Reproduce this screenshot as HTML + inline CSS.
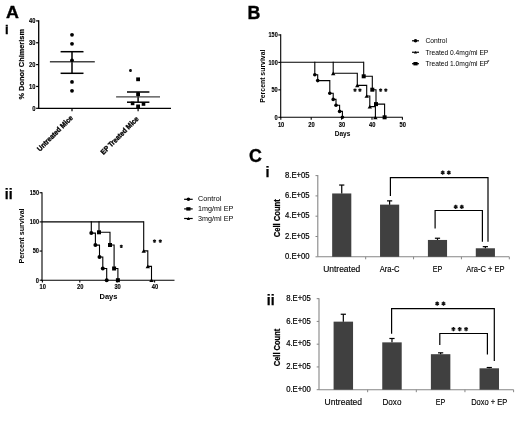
<!DOCTYPE html>
<html><head><meta charset="utf-8"><style>
html,body{margin:0;padding:0;background:#fff;width:520px;height:425px;overflow:hidden;}
svg{display:block;font-family:"Liberation Sans", sans-serif;filter:grayscale(1);}
</style></head><body>
<svg width="520" height="425" viewBox="0 0 520 425">
<rect width="520" height="425" fill="#fff"/>
<text x="5.90" y="17.90" font-size="16.4" font-weight="bold" text-anchor="start" fill="#000" stroke="#000" stroke-width="0.35" transform="translate(5.9 0) scale(1.09 1) translate(-5.9 0)">A</text>
<text x="4.90" y="33.70" font-size="12.9" font-weight="bold" text-anchor="start" fill="#000" stroke="#000" stroke-width="0.3">i</text>
<text x="247.40" y="18.80" font-size="17.8" font-weight="bold" text-anchor="start" fill="#000" stroke="#000" stroke-width="0.35">B</text>
<text x="4.80" y="199.10" font-size="14" font-weight="bold" text-anchor="start" fill="#000" stroke="#000" stroke-width="0.25">ii</text>
<text x="249.00" y="161.90" font-size="17.8" font-weight="bold" text-anchor="start" fill="#000" stroke="#000" stroke-width="0.35">C</text>
<text x="265.60" y="176.90" font-size="14.5" font-weight="bold" text-anchor="start" fill="#000" stroke="#000" stroke-width="0.25">i</text>
<text x="266.80" y="304.50" font-size="14" font-weight="bold" text-anchor="start" fill="#000" stroke="#000" stroke-width="0.25">ii</text>
<line x1="38.70" y1="20.30" x2="38.70" y2="108.90" stroke="#000" stroke-width="1.3"/>
<line x1="38.10" y1="108.30" x2="171.00" y2="108.30" stroke="#000" stroke-width="1.3"/>
<line x1="36.10" y1="108.30" x2="38.70" y2="108.30" stroke="#000" stroke-width="1.2"/>
<text x="35.50" y="110.70" font-size="6.7" font-weight="bold" text-anchor="end" fill="#000" textLength="3.3" lengthAdjust="spacingAndGlyphs" stroke="#000" stroke-width="0.15">0</text>
<line x1="36.10" y1="86.45" x2="38.70" y2="86.45" stroke="#000" stroke-width="1.2"/>
<text x="35.50" y="88.85" font-size="6.7" font-weight="bold" text-anchor="end" fill="#000" textLength="6.4" lengthAdjust="spacingAndGlyphs" stroke="#000" stroke-width="0.15">10</text>
<line x1="36.10" y1="64.60" x2="38.70" y2="64.60" stroke="#000" stroke-width="1.2"/>
<text x="35.50" y="67.00" font-size="6.7" font-weight="bold" text-anchor="end" fill="#000" textLength="6.4" lengthAdjust="spacingAndGlyphs" stroke="#000" stroke-width="0.15">20</text>
<line x1="36.10" y1="42.75" x2="38.70" y2="42.75" stroke="#000" stroke-width="1.2"/>
<text x="35.50" y="45.15" font-size="6.7" font-weight="bold" text-anchor="end" fill="#000" textLength="6.4" lengthAdjust="spacingAndGlyphs" stroke="#000" stroke-width="0.15">30</text>
<line x1="36.10" y1="20.90" x2="38.70" y2="20.90" stroke="#000" stroke-width="1.2"/>
<text x="35.50" y="23.30" font-size="6.7" font-weight="bold" text-anchor="end" fill="#000" textLength="6.4" lengthAdjust="spacingAndGlyphs" stroke="#000" stroke-width="0.15">40</text>
<line x1="72.00" y1="108.30" x2="72.00" y2="111.30" stroke="#000" stroke-width="1.2"/>
<line x1="138.10" y1="108.30" x2="138.10" y2="111.30" stroke="#000" stroke-width="1.2"/>
<text x="23.60" y="64.30" font-size="7.6" font-weight="bold" text-anchor="middle" fill="#000" textLength="70.5" lengthAdjust="spacingAndGlyphs" stroke="#000" stroke-width="0.2" transform="rotate(-90 23.6 64.3)">% Donor Chimerism</text>
<text x="73.30" y="118.40" font-size="7.3" font-weight="bold" text-anchor="end" fill="#000" textLength="47.0" lengthAdjust="spacingAndGlyphs" stroke="#000" stroke-width="0.35" transform="rotate(-45 73.3 118.4)">Untreated Mice</text>
<text x="139.20" y="119.40" font-size="7.3" font-weight="bold" text-anchor="end" fill="#000" textLength="50.3" lengthAdjust="spacingAndGlyphs" stroke="#000" stroke-width="0.35" transform="rotate(-45 139.2 119.4)">EP Treated Mice</text>
<line x1="72.00" y1="51.70" x2="72.00" y2="73.30" stroke="#000" stroke-width="1.5"/>
<line x1="60.60" y1="51.70" x2="83.50" y2="51.70" stroke="#000" stroke-width="1.5"/>
<line x1="60.60" y1="73.30" x2="83.50" y2="73.30" stroke="#000" stroke-width="1.5"/>
<line x1="49.90" y1="61.75" x2="94.80" y2="61.75" stroke="#444" stroke-width="1.3"/>
<circle cx="72.00" cy="34.80" r="1.9" fill="#000"/>
<circle cx="72.00" cy="43.80" r="1.9" fill="#000"/>
<circle cx="72.00" cy="60.30" r="1.9" fill="#000"/>
<circle cx="72.00" cy="81.90" r="1.9" fill="#000"/>
<circle cx="72.00" cy="90.80" r="1.9" fill="#000"/>
<line x1="138.10" y1="92.00" x2="138.10" y2="102.20" stroke="#000" stroke-width="1.5"/>
<line x1="127.00" y1="92.00" x2="149.40" y2="92.00" stroke="#000" stroke-width="1.5"/>
<line x1="127.00" y1="102.20" x2="149.40" y2="102.20" stroke="#000" stroke-width="1.5"/>
<line x1="116.10" y1="96.90" x2="160.00" y2="96.90" stroke="#444" stroke-width="1.3"/>
<rect x="136.20" y="77.40" width="3.8" height="3.8" fill="#000"/>
<rect x="136.20" y="92.30" width="3.8" height="3.8" fill="#000"/>
<rect x="130.80" y="101.60" width="3.6" height="3.6" fill="#000"/>
<rect x="141.70" y="102.20" width="3.6" height="3.6" fill="#000"/>
<rect x="136.20" y="104.50" width="3.8" height="3.8" fill="#000"/>
<path d="M130.50,69.10L130.50,72.10M129.20,69.85L131.80,71.35M131.80,69.85L129.20,71.35" stroke="#111" stroke-width="1.1" fill="none"/>
<line x1="42.00" y1="192.15" x2="42.00" y2="280.80" stroke="#000" stroke-width="1.1"/>
<line x1="41.40" y1="280.20" x2="174.50" y2="280.20" stroke="#000" stroke-width="1.1"/>
<line x1="39.60" y1="280.20" x2="42.00" y2="280.20" stroke="#000" stroke-width="1.1"/>
<text x="39.00" y="282.50" font-size="6.3" font-weight="bold" text-anchor="end" fill="#000" textLength="3.2" lengthAdjust="spacingAndGlyphs" stroke="#000" stroke-width="0.12">0</text>
<line x1="39.60" y1="251.05" x2="42.00" y2="251.05" stroke="#000" stroke-width="1.1"/>
<text x="39.00" y="253.35" font-size="6.3" font-weight="bold" text-anchor="end" fill="#000" textLength="6.3" lengthAdjust="spacingAndGlyphs" stroke="#000" stroke-width="0.12">50</text>
<line x1="39.60" y1="221.90" x2="42.00" y2="221.90" stroke="#000" stroke-width="1.1"/>
<text x="39.00" y="224.20" font-size="6.3" font-weight="bold" text-anchor="end" fill="#000" textLength="9.2" lengthAdjust="spacingAndGlyphs" stroke="#000" stroke-width="0.12">100</text>
<line x1="39.60" y1="192.75" x2="42.00" y2="192.75" stroke="#000" stroke-width="1.1"/>
<text x="39.00" y="195.05" font-size="6.3" font-weight="bold" text-anchor="end" fill="#000" textLength="9.2" lengthAdjust="spacingAndGlyphs" stroke="#000" stroke-width="0.12">150</text>
<line x1="42.40" y1="280.20" x2="42.40" y2="282.60" stroke="#000" stroke-width="1.1"/>
<text x="42.80" y="289.20" font-size="6.3" font-weight="bold" text-anchor="middle" fill="#000" textLength="6.4" lengthAdjust="spacingAndGlyphs" stroke="#000" stroke-width="0.12">10</text>
<line x1="79.80" y1="280.20" x2="79.80" y2="282.60" stroke="#000" stroke-width="1.1"/>
<text x="80.20" y="289.20" font-size="6.3" font-weight="bold" text-anchor="middle" fill="#000" textLength="6.4" lengthAdjust="spacingAndGlyphs" stroke="#000" stroke-width="0.12">20</text>
<line x1="117.20" y1="280.20" x2="117.20" y2="282.60" stroke="#000" stroke-width="1.1"/>
<text x="117.60" y="289.20" font-size="6.3" font-weight="bold" text-anchor="middle" fill="#000" textLength="6.4" lengthAdjust="spacingAndGlyphs" stroke="#000" stroke-width="0.12">30</text>
<line x1="154.60" y1="280.20" x2="154.60" y2="282.60" stroke="#000" stroke-width="1.1"/>
<text x="155.00" y="289.20" font-size="6.3" font-weight="bold" text-anchor="middle" fill="#000" textLength="6.4" lengthAdjust="spacingAndGlyphs" stroke="#000" stroke-width="0.12">40</text>
<text x="108.50" y="299.00" font-size="7.5" font-weight="bold" text-anchor="middle" fill="#000" >Days</text>
<text x="24.50" y="235.90" font-size="7.2" font-weight="bold" text-anchor="middle" fill="#000" textLength="55.0" lengthAdjust="spacingAndGlyphs" transform="rotate(-90 24.5 235.9)">Percent survival</text>
<line x1="42.00" y1="221.90" x2="143.70" y2="221.90" stroke="#000" stroke-width="1.1"/>
<path d="M143.15,221.90 H143.70 V250.90 H147.80 V266.40 H151.50 V280.20" fill="none" stroke="#000" stroke-width="1.1"/>
<path d="M141.50,252.77 L145.90,252.77 L143.70,249.03Z" fill="#000"/>
<path d="M145.60,268.27 L150.00,268.27 L147.80,264.53Z" fill="#000"/>
<path d="M149.30,282.07 L153.70,282.07 L151.50,278.33Z" fill="#000"/>
<path d="M98.45,221.90 H99.00 V232.30 H110.00 V245.00 H114.10 V268.50 H117.90 V280.20" fill="none" stroke="#000" stroke-width="1.1"/>
<rect x="97.00" y="230.30" width="4.0" height="4.0" fill="#000"/>
<rect x="108.00" y="243.00" width="4.0" height="4.0" fill="#000"/>
<rect x="112.10" y="266.50" width="4.0" height="4.0" fill="#000"/>
<rect x="115.90" y="278.20" width="4.0" height="4.0" fill="#000"/>
<path d="M90.75,221.90 H91.30 V233.10 H95.40 V245.10 H99.50 V257.00 H102.80 V268.50 H106.70 V280.20" fill="none" stroke="#000" stroke-width="1.1"/>
<circle cx="91.30" cy="233.10" r="2.0" fill="#000"/>
<circle cx="95.40" cy="245.10" r="2.0" fill="#000"/>
<circle cx="99.50" cy="257.00" r="2.0" fill="#000"/>
<circle cx="102.80" cy="268.50" r="2.0" fill="#000"/>
<circle cx="106.70" cy="280.20" r="2.0" fill="#000"/>
<path d="M121.30,244.80L121.30,248.00M119.91,245.60L122.69,247.20M122.69,245.60L119.91,247.20" stroke="#111" stroke-width="1.2" fill="none"/>
<path d="M154.50,239.40L154.50,242.80M153.03,240.25L155.97,241.95M155.97,240.25L153.03,241.95" stroke="#111" stroke-width="1.25" fill="none"/>
<path d="M160.30,239.40L160.30,242.80M158.83,240.25L161.77,241.95M161.77,240.25L158.83,241.95" stroke="#111" stroke-width="1.25" fill="none"/>
<line x1="184.10" y1="199.30" x2="192.70" y2="199.30" stroke="#000" stroke-width="1.2"/>
<circle cx="188.40" cy="199.30" r="1.8" fill="#000"/>
<text x="198.10" y="201.30" font-size="7.2" font-weight="normal" text-anchor="start" fill="#000" >Control</text>
<line x1="184.10" y1="208.90" x2="192.70" y2="208.90" stroke="#000" stroke-width="1.2"/>
<rect x="186.30" y="207.20" width="4.2" height="3.4" fill="#000"/>
<text x="198.10" y="210.90" font-size="7.2" font-weight="normal" text-anchor="start" fill="#000" >1mg/ml EP</text>
<line x1="184.10" y1="218.50" x2="192.70" y2="218.50" stroke="#000" stroke-width="1.2"/>
<path d="M186.70,219.94 L190.10,219.94 L188.40,217.06Z" fill="#000"/>
<text x="198.10" y="220.50" font-size="7.2" font-weight="normal" text-anchor="start" fill="#000" >3mg/ml EP</text>
<line x1="280.70" y1="34.35" x2="280.70" y2="117.90" stroke="#000" stroke-width="1.1"/>
<line x1="280.10" y1="117.30" x2="402.70" y2="117.30" stroke="#000" stroke-width="1.1"/>
<line x1="278.30" y1="117.30" x2="280.70" y2="117.30" stroke="#000" stroke-width="1.1"/>
<text x="277.70" y="119.60" font-size="6.3" font-weight="bold" text-anchor="end" fill="#000" textLength="3.2" lengthAdjust="spacingAndGlyphs" stroke="#000" stroke-width="0.12">0</text>
<line x1="278.30" y1="89.85" x2="280.70" y2="89.85" stroke="#000" stroke-width="1.1"/>
<text x="277.70" y="92.15" font-size="6.3" font-weight="bold" text-anchor="end" fill="#000" textLength="6.3" lengthAdjust="spacingAndGlyphs" stroke="#000" stroke-width="0.12">50</text>
<line x1="278.30" y1="62.40" x2="280.70" y2="62.40" stroke="#000" stroke-width="1.1"/>
<text x="277.70" y="64.70" font-size="6.3" font-weight="bold" text-anchor="end" fill="#000" textLength="9.2" lengthAdjust="spacingAndGlyphs" stroke="#000" stroke-width="0.12">100</text>
<line x1="278.30" y1="34.95" x2="280.70" y2="34.95" stroke="#000" stroke-width="1.1"/>
<text x="277.70" y="37.25" font-size="6.3" font-weight="bold" text-anchor="end" fill="#000" textLength="9.2" lengthAdjust="spacingAndGlyphs" stroke="#000" stroke-width="0.12">150</text>
<line x1="280.80" y1="117.30" x2="280.80" y2="119.70" stroke="#000" stroke-width="1.1"/>
<text x="281.10" y="126.80" font-size="6.3" font-weight="bold" text-anchor="middle" fill="#000" textLength="6.4" lengthAdjust="spacingAndGlyphs" stroke="#000" stroke-width="0.12">10</text>
<line x1="311.20" y1="117.30" x2="311.20" y2="119.70" stroke="#000" stroke-width="1.1"/>
<text x="311.50" y="126.80" font-size="6.3" font-weight="bold" text-anchor="middle" fill="#000" textLength="6.4" lengthAdjust="spacingAndGlyphs" stroke="#000" stroke-width="0.12">20</text>
<line x1="341.60" y1="117.30" x2="341.60" y2="119.70" stroke="#000" stroke-width="1.1"/>
<text x="341.90" y="126.80" font-size="6.3" font-weight="bold" text-anchor="middle" fill="#000" textLength="6.4" lengthAdjust="spacingAndGlyphs" stroke="#000" stroke-width="0.12">30</text>
<line x1="372.00" y1="117.30" x2="372.00" y2="119.70" stroke="#000" stroke-width="1.1"/>
<text x="372.30" y="126.80" font-size="6.3" font-weight="bold" text-anchor="middle" fill="#000" textLength="6.4" lengthAdjust="spacingAndGlyphs" stroke="#000" stroke-width="0.12">40</text>
<line x1="402.40" y1="117.30" x2="402.40" y2="119.70" stroke="#000" stroke-width="1.1"/>
<text x="402.70" y="126.80" font-size="6.3" font-weight="bold" text-anchor="middle" fill="#000" textLength="6.4" lengthAdjust="spacingAndGlyphs" stroke="#000" stroke-width="0.12">50</text>
<text x="342.50" y="135.80" font-size="7.0" font-weight="bold" text-anchor="middle" fill="#000" textLength="15.6" lengthAdjust="spacingAndGlyphs" >Days</text>
<text x="264.60" y="76.20" font-size="7.0" font-weight="bold" text-anchor="middle" fill="#000" textLength="53.2" lengthAdjust="spacingAndGlyphs" transform="rotate(-90 264.6 76.2)">Percent survival</text>
<line x1="280.70" y1="62.30" x2="363.70" y2="62.30" stroke="#000" stroke-width="1.1"/>
<path d="M363.15,62.30 H363.70 V76.30 H372.30 V89.70 H376.00 V104.10 H384.60 V117.30" fill="none" stroke="#000" stroke-width="1.1"/>
<rect x="361.70" y="74.30" width="4.0" height="4.0" fill="#000"/>
<rect x="370.30" y="87.70" width="4.0" height="4.0" fill="#000"/>
<rect x="374.00" y="102.10" width="4.0" height="4.0" fill="#000"/>
<rect x="382.60" y="115.30" width="4.0" height="4.0" fill="#000"/>
<path d="M332.65,62.30 H333.20 V73.30 H357.30 V85.40 H366.70 V96.00 H369.80 V106.60 H375.40 V117.30" fill="none" stroke="#000" stroke-width="1.1"/>
<path d="M331.00,75.17 L335.40,75.17 L333.20,71.43Z" fill="#000"/>
<path d="M355.10,87.27 L359.50,87.27 L357.30,83.53Z" fill="#000"/>
<path d="M364.50,97.87 L368.90,97.87 L366.70,94.13Z" fill="#000"/>
<path d="M367.60,108.47 L372.00,108.47 L369.80,104.73Z" fill="#000"/>
<path d="M373.20,119.17 L377.60,119.17 L375.40,115.43Z" fill="#000"/>
<path d="M314.25,62.30 H314.80 V74.80 H317.70 V80.60 H329.80 V93.30 H333.20 V99.40 H336.00 V105.30 H339.60 V111.40 H342.40 V117.30" fill="none" stroke="#000" stroke-width="1.1"/>
<circle cx="314.80" cy="74.80" r="1.8" fill="#000"/>
<circle cx="317.70" cy="80.60" r="1.8" fill="#000"/>
<circle cx="329.80" cy="93.30" r="1.8" fill="#000"/>
<circle cx="333.20" cy="99.40" r="1.8" fill="#000"/>
<circle cx="336.00" cy="105.30" r="1.8" fill="#000"/>
<circle cx="339.60" cy="111.40" r="1.8" fill="#000"/>
<circle cx="342.40" cy="117.30" r="1.8" fill="#000"/>
<path d="M355.00,88.40L355.00,91.80M353.53,89.25L356.47,90.95M356.47,89.25L353.53,90.95" stroke="#111" stroke-width="1.25" fill="none"/>
<path d="M359.90,88.40L359.90,91.80M358.43,89.25L361.37,90.95M361.37,89.25L358.43,90.95" stroke="#111" stroke-width="1.25" fill="none"/>
<path d="M380.60,88.40L380.60,91.80M379.13,89.25L382.07,90.95M382.07,89.25L379.13,90.95" stroke="#111" stroke-width="1.25" fill="none"/>
<path d="M385.80,88.40L385.80,91.80M384.33,89.25L387.27,90.95M387.27,89.25L384.33,90.95" stroke="#111" stroke-width="1.25" fill="none"/>
<line x1="412.00" y1="40.80" x2="419.00" y2="40.80" stroke="#000" stroke-width="1.2"/>
<circle cx="415.50" cy="40.80" r="1.8" fill="#000"/>
<text x="425.40" y="43.10" font-size="6.7" font-weight="normal" text-anchor="start" fill="#000" >Control</text>
<line x1="412.00" y1="52.25" x2="419.00" y2="52.25" stroke="#000" stroke-width="1.2"/>
<path d="M413.90,53.61 L417.10,53.61 L415.50,50.89Z" fill="#000"/>
<text x="425.40" y="54.55" font-size="6.7" font-weight="normal" text-anchor="start" fill="#000" >Treated 0.4mg/ml EP</text>
<line x1="412.00" y1="63.70" x2="419.00" y2="63.70" stroke="#000" stroke-width="1.2"/>
<rect x="413.40" y="62.00" width="4.2" height="3.4" fill="#000"/>
<text x="425.40" y="66.00" font-size="6.7" font-weight="normal" text-anchor="start" fill="#000" >Treated 1.0mg/ml EP</text>
<text x="487.20" y="64.40" font-size="5.5" font-weight="normal" text-anchor="start" fill="#000" >*</text>
<line x1="317.80" y1="175.10" x2="317.80" y2="256.80" stroke="#868686" stroke-width="1.1"/>
<line x1="317.80" y1="256.80" x2="509.30" y2="256.80" stroke="#868686" stroke-width="1.1"/>
<line x1="315.50" y1="256.80" x2="317.80" y2="256.80" stroke="#868686" stroke-width="1.0"/>
<text x="309.60" y="258.90" font-size="8.2" font-weight="normal" text-anchor="end" fill="#000" textLength="24.6" lengthAdjust="spacingAndGlyphs" stroke="#000" stroke-width="0.2">0.E+00</text>
<line x1="315.50" y1="236.50" x2="317.80" y2="236.50" stroke="#868686" stroke-width="1.0"/>
<text x="309.60" y="238.60" font-size="8.2" font-weight="normal" text-anchor="end" fill="#000" textLength="24.6" lengthAdjust="spacingAndGlyphs" stroke="#000" stroke-width="0.2">2.E+05</text>
<line x1="315.50" y1="216.20" x2="317.80" y2="216.20" stroke="#868686" stroke-width="1.0"/>
<text x="309.60" y="218.30" font-size="8.2" font-weight="normal" text-anchor="end" fill="#000" textLength="24.6" lengthAdjust="spacingAndGlyphs" stroke="#000" stroke-width="0.2">4.E+05</text>
<line x1="315.50" y1="195.90" x2="317.80" y2="195.90" stroke="#868686" stroke-width="1.0"/>
<text x="309.60" y="198.00" font-size="8.2" font-weight="normal" text-anchor="end" fill="#000" textLength="24.6" lengthAdjust="spacingAndGlyphs" stroke="#000" stroke-width="0.2">6.E+05</text>
<line x1="315.50" y1="175.60" x2="317.80" y2="175.60" stroke="#868686" stroke-width="1.0"/>
<text x="309.60" y="177.70" font-size="8.2" font-weight="normal" text-anchor="end" fill="#000" textLength="24.6" lengthAdjust="spacingAndGlyphs" stroke="#000" stroke-width="0.2">8.E+05</text>
<line x1="365.68" y1="256.80" x2="365.68" y2="259.30" stroke="#868686" stroke-width="1.0"/>
<line x1="413.55" y1="256.80" x2="413.55" y2="259.30" stroke="#868686" stroke-width="1.0"/>
<line x1="461.43" y1="256.80" x2="461.43" y2="259.30" stroke="#868686" stroke-width="1.0"/>
<line x1="509.30" y1="256.80" x2="509.30" y2="259.30" stroke="#868686" stroke-width="1.0"/>
<rect x="332.16" y="193.46" width="19.15" height="63.34" fill="#404040"/>
<line x1="341.74" y1="193.46" x2="341.74" y2="185.04" stroke="#000" stroke-width="1.2"/>
<line x1="339.14" y1="185.04" x2="344.34" y2="185.04" stroke="#000" stroke-width="1.2"/>
<text x="341.74" y="271.90" font-size="9" font-weight="normal" text-anchor="middle" fill="#000" textLength="37.2" lengthAdjust="spacingAndGlyphs" stroke="#000" stroke-width="0.15">Untreated</text>
<rect x="380.04" y="204.63" width="19.15" height="52.17" fill="#404040"/>
<line x1="389.61" y1="204.63" x2="389.61" y2="200.87" stroke="#000" stroke-width="1.2"/>
<line x1="387.01" y1="200.87" x2="392.21" y2="200.87" stroke="#000" stroke-width="1.2"/>
<text x="389.61" y="271.90" font-size="9" font-weight="normal" text-anchor="middle" fill="#000" textLength="19.9" lengthAdjust="spacingAndGlyphs" stroke="#000" stroke-width="0.15">Ara-C</text>
<rect x="427.91" y="239.95" width="19.15" height="16.85" fill="#404040"/>
<line x1="437.49" y1="239.95" x2="437.49" y2="238.23" stroke="#000" stroke-width="1.2"/>
<line x1="434.89" y1="238.23" x2="440.09" y2="238.23" stroke="#000" stroke-width="1.2"/>
<text x="437.49" y="271.90" font-size="9" font-weight="normal" text-anchor="middle" fill="#000" textLength="9.5" lengthAdjust="spacingAndGlyphs" stroke="#000" stroke-width="0.15">EP</text>
<rect x="475.79" y="248.27" width="19.15" height="8.53" fill="#404040"/>
<line x1="485.36" y1="248.27" x2="485.36" y2="246.65" stroke="#000" stroke-width="1.2"/>
<line x1="482.76" y1="246.65" x2="487.96" y2="246.65" stroke="#000" stroke-width="1.2"/>
<text x="485.36" y="271.90" font-size="9" font-weight="normal" text-anchor="middle" fill="#000" textLength="38.2" lengthAdjust="spacingAndGlyphs" stroke="#000" stroke-width="0.15">Ara-C + EP</text>
<text x="280.30" y="218.30" font-size="8.8" font-weight="bold" text-anchor="middle" fill="#000" textLength="38.0" lengthAdjust="spacingAndGlyphs" stroke="#000" stroke-width="0.25" transform="rotate(-90 280.3 218.3)">Cell Count</text>
<path d="M390.4,195.9 V177.55 H488 V241.8" fill="none" stroke="#000" stroke-width="1.2"/>
<path d="M435.1,228.4 V210.5 H482.4 V241.8" fill="none" stroke="#000" stroke-width="1.2"/>
<path d="M442.70,170.60L442.70,174.80M440.88,171.65L444.52,173.75M444.52,171.65L440.88,173.75" stroke="#111" stroke-width="1.3" fill="none"/>
<path d="M448.80,170.60L448.80,174.80M446.98,171.65L450.62,173.75M450.62,171.65L446.98,173.75" stroke="#111" stroke-width="1.3" fill="none"/>
<path d="M455.70,204.70L455.70,208.90M453.88,205.75L457.52,207.85M457.52,205.75L453.88,207.85" stroke="#111" stroke-width="1.3" fill="none"/>
<path d="M461.80,204.70L461.80,208.90M459.98,205.75L463.62,207.85M463.62,205.75L459.98,207.85" stroke="#111" stroke-width="1.3" fill="none"/>
<line x1="319.00" y1="298.16" x2="319.00" y2="389.70" stroke="#868686" stroke-width="1.1"/>
<line x1="319.00" y1="389.70" x2="513.60" y2="389.70" stroke="#868686" stroke-width="1.1"/>
<line x1="316.70" y1="389.70" x2="319.00" y2="389.70" stroke="#868686" stroke-width="1.0"/>
<text x="310.80" y="391.80" font-size="8.2" font-weight="normal" text-anchor="end" fill="#000" textLength="24.6" lengthAdjust="spacingAndGlyphs" stroke="#000" stroke-width="0.2">0.E+00</text>
<line x1="316.70" y1="366.94" x2="319.00" y2="366.94" stroke="#868686" stroke-width="1.0"/>
<text x="310.80" y="369.04" font-size="8.2" font-weight="normal" text-anchor="end" fill="#000" textLength="24.6" lengthAdjust="spacingAndGlyphs" stroke="#000" stroke-width="0.2">2.E+05</text>
<line x1="316.70" y1="344.18" x2="319.00" y2="344.18" stroke="#868686" stroke-width="1.0"/>
<text x="310.80" y="346.28" font-size="8.2" font-weight="normal" text-anchor="end" fill="#000" textLength="24.6" lengthAdjust="spacingAndGlyphs" stroke="#000" stroke-width="0.2">4.E+05</text>
<line x1="316.70" y1="321.42" x2="319.00" y2="321.42" stroke="#868686" stroke-width="1.0"/>
<text x="310.80" y="323.52" font-size="8.2" font-weight="normal" text-anchor="end" fill="#000" textLength="24.6" lengthAdjust="spacingAndGlyphs" stroke="#000" stroke-width="0.2">6.E+05</text>
<line x1="316.70" y1="298.66" x2="319.00" y2="298.66" stroke="#868686" stroke-width="1.0"/>
<text x="310.80" y="300.76" font-size="8.2" font-weight="normal" text-anchor="end" fill="#000" textLength="24.6" lengthAdjust="spacingAndGlyphs" stroke="#000" stroke-width="0.2">8.E+05</text>
<line x1="367.65" y1="389.70" x2="367.65" y2="392.20" stroke="#868686" stroke-width="1.0"/>
<line x1="416.30" y1="389.70" x2="416.30" y2="392.20" stroke="#868686" stroke-width="1.0"/>
<line x1="464.95" y1="389.70" x2="464.95" y2="392.20" stroke="#868686" stroke-width="1.0"/>
<line x1="513.60" y1="389.70" x2="513.60" y2="392.20" stroke="#868686" stroke-width="1.0"/>
<rect x="333.59" y="321.65" width="19.46" height="68.05" fill="#404040"/>
<line x1="343.32" y1="321.65" x2="343.32" y2="314.25" stroke="#000" stroke-width="1.2"/>
<line x1="340.72" y1="314.25" x2="345.93" y2="314.25" stroke="#000" stroke-width="1.2"/>
<text x="343.32" y="404.50" font-size="9" font-weight="normal" text-anchor="middle" fill="#000" textLength="37.5" lengthAdjust="spacingAndGlyphs" stroke="#000" stroke-width="0.15">Untreated</text>
<rect x="382.25" y="342.36" width="19.46" height="47.34" fill="#404040"/>
<line x1="391.98" y1="342.36" x2="391.98" y2="338.49" stroke="#000" stroke-width="1.2"/>
<line x1="389.38" y1="338.49" x2="394.58" y2="338.49" stroke="#000" stroke-width="1.2"/>
<text x="391.98" y="404.50" font-size="9" font-weight="normal" text-anchor="middle" fill="#000" textLength="18.9" lengthAdjust="spacingAndGlyphs" stroke="#000" stroke-width="0.15">Doxo</text>
<rect x="430.89" y="354.19" width="19.46" height="35.51" fill="#404040"/>
<line x1="440.62" y1="354.19" x2="440.62" y2="352.83" stroke="#000" stroke-width="1.2"/>
<line x1="438.02" y1="352.83" x2="443.23" y2="352.83" stroke="#000" stroke-width="1.2"/>
<text x="440.62" y="404.50" font-size="9" font-weight="normal" text-anchor="middle" fill="#000" textLength="9.5" lengthAdjust="spacingAndGlyphs" stroke="#000" stroke-width="0.15">EP</text>
<rect x="479.55" y="368.31" width="19.46" height="21.39" fill="#404040"/>
<line x1="489.28" y1="368.31" x2="489.28" y2="367.51" stroke="#000" stroke-width="1.2"/>
<line x1="486.68" y1="367.51" x2="491.88" y2="367.51" stroke="#000" stroke-width="1.2"/>
<text x="489.28" y="404.50" font-size="9" font-weight="normal" text-anchor="middle" fill="#000" textLength="36.2" lengthAdjust="spacingAndGlyphs" stroke="#000" stroke-width="0.15">Doxo + EP</text>
<text x="279.80" y="347.50" font-size="8.6" font-weight="bold" text-anchor="middle" fill="#000" textLength="37.5" lengthAdjust="spacingAndGlyphs" stroke="#000" stroke-width="0.25" transform="rotate(-90 279.8 347.5)">Cell Count</text>
<path d="M391.6,333.7 V308.55 H494.3 V361" fill="none" stroke="#000" stroke-width="1.2"/>
<path d="M439.8,345 V333.5 H487.4 V354.5" fill="none" stroke="#000" stroke-width="1.2"/>
<path d="M437.20,301.60L437.20,305.80M435.38,302.65L439.02,304.75M439.02,302.65L435.38,304.75" stroke="#111" stroke-width="1.3" fill="none"/>
<path d="M443.50,301.60L443.50,305.80M441.68,302.65L445.32,304.75M445.32,302.65L441.68,304.75" stroke="#111" stroke-width="1.3" fill="none"/>
<path d="M453.40,327.00L453.40,331.20M451.58,328.05L455.22,330.15M455.22,328.05L451.58,330.15" stroke="#111" stroke-width="1.3" fill="none"/>
<path d="M459.70,327.00L459.70,331.20M457.88,328.05L461.52,330.15M461.52,328.05L457.88,330.15" stroke="#111" stroke-width="1.3" fill="none"/>
<path d="M466.10,327.00L466.10,331.20M464.28,328.05L467.92,330.15M467.92,328.05L464.28,330.15" stroke="#111" stroke-width="1.3" fill="none"/>
</svg>
</body></html>
